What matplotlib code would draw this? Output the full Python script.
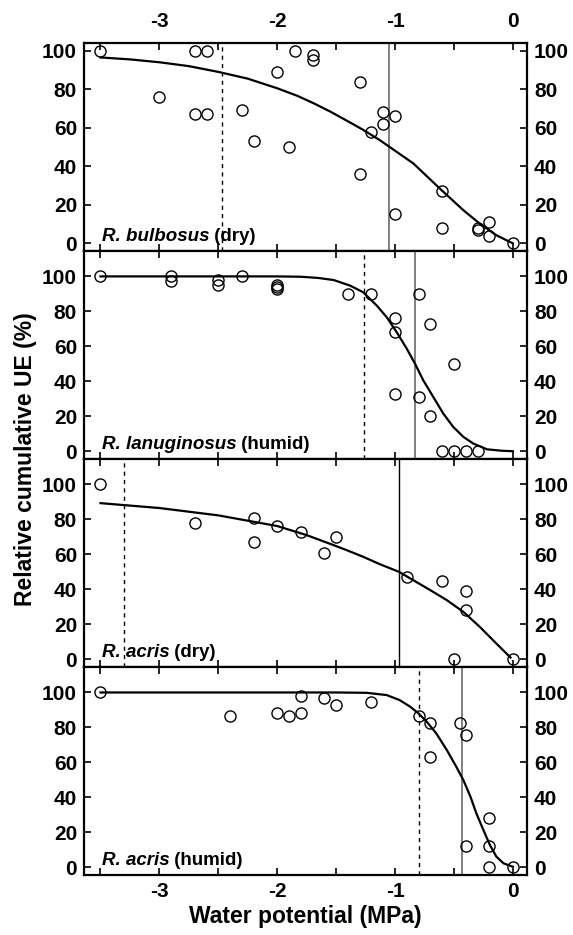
"""Relative cumulative UE vs water potential, four Ranunculus panels"""
import numpy as np
import matplotlib.pyplot as plt

plt.rcParams['font.family'] = ['Liberation Sans', 'DejaVu Sans']
plt.rcParams['font.weight'] = 'bold'

# --- R. bulbosus (dry)
bulb_x = [-3.5, -3.0, -2.7, -2.6, -2.7, -2.6, -2.3, -2.2, -2.0, -1.9, -1.85, -1.7, -1.7,
          -1.3, -1.3, -1.2, -1.1, -1.1, -1.0, -1.0, -0.6, -0.6, -0.3, -0.3, -0.2, -0.2, 0.0]
bulb_y = [100, 76, 100, 100, 67, 67, 69, 53, 89, 50, 100, 98, 95,
          84, 36, 58, 68, 62, 66, 15, 27, 8, 8, 7, 11, 4, 0]
bulb_fit_x = [-3.5, -3.25, -3.0, -2.75, -2.5, -2.25, -2.0, -1.83, -1.69, -1.55, -1.41,
              -1.27, -1.13, -1.05, -0.845, -0.605, -0.42, -0.28, -0.14, 0.0]
bulb_fit_y = [96.5, 95.5, 94, 92, 89, 85.5, 80.5, 76.6, 72.7, 68.4, 63.7,
              58.9, 53.6, 50.2, 41.5, 27.6, 17.2, 10.2, 4.2, 0]
bulb_t90, bulb_t50 = -2.47, -1.05

# --- R. lanuginosus (humid)
lanu_x = [-3.5, -2.9, -2.9, -2.5, -2.5, -2.3, -2.0, -2.0, -2.0, -1.4, -1.2,
          -1.0, -1.0, -1.0, -0.8, -0.8, -0.7, -0.7, -0.5, -0.6, -0.5, -0.4, -0.3]
lanu_y = [100, 100, 97.5, 98, 95, 100, 95, 94, 93, 90, 90,
          76, 68, 33, 90, 31, 73, 20, 50, 0, 0, 0, 0]
lanu_fit_x = [-3.5, -3.0, -2.5, -2.0, -1.8, -1.65, -1.52, -1.38, -1.27, -1.155, -1.07,
              -0.986, -0.90, -0.83, -0.76, -0.675, -0.59, -0.506, -0.42, -0.336, -0.22,
              -0.1, 0.0]
lanu_fit_y = [100, 100, 100, 100, 99.8, 99.1, 97.9, 94.7, 90.9, 83.3, 76.6,
              68.1, 58.6, 50, 40.5, 31, 21.5, 13.9, 8.2, 4.4, 1.1,
              0.3, 0]
lanu_t90, lanu_t50 = -1.26, -0.83

# --- R. acris (dry)
acdry_x = [-3.5, -2.7, -2.2, -2.2, -2.0, -1.8, -1.6, -1.5, -0.9, -0.6, -0.4, -0.4, -0.5, 0.0]
acdry_y = [100, 78, 81, 67, 76, 73, 61, 70, 47, 45, 39, 28, 0, 0]
acdry_fit_x = [-3.5, -3.0, -2.5, -2.0, -1.75, -1.55, -1.41, -1.27, -1.13, -0.966, -0.845,
               -0.70, -0.56, -0.42, -0.28, -0.14, -0.02]
acdry_fit_y = [89.3, 86.5, 82.3, 76.2, 71, 66, 62.4, 58.6, 54.4, 50, 45.2,
               39.5, 33.8, 27.1, 18.5, 9, 1]
acdry_t90, acdry_t50 = -3.30, -0.963

# --- R. acris (humid)
achum_x = [-3.5, -2.4, -2.0, -1.9, -1.8, -1.8, -1.6, -1.5, -1.2, -0.8, -0.7, -0.7,
           -0.45, -0.4, -0.4, -0.2, -0.2, -0.2, 0.0]
achum_y = [100, 86.5, 88, 86.5, 88, 98, 97, 93, 94.5, 86.5, 82.5, 63,
           82.5, 75.6, 12, 28, 12, 0, 0]
achum_fit_x = [-3.5, -3.0, -2.5, -2.0, -1.5, -1.24, -1.07, -0.96, -0.87, -0.80, -0.73,
               -0.65, -0.56, -0.48, -0.42, -0.36, -0.31, -0.25, -0.195, -0.14, -0.08, 0.0]
achum_fit_y = [100, 100, 100, 100, 100, 99.8, 98.5, 95.6, 91.8, 88, 83.2,
               76.6, 67, 57.5, 49.9, 40.4, 30.9, 21.3, 12.8, 6.1, 2.3, 0.3]
achum_t90, achum_t50 = -0.80, -0.43

species = ['R. bulbosus', 'R. lanuginosus', 'R. acris', 'R. acris']
habitat = ['(dry)', '(humid)', '(dry)', '(humid)']
y_ticks = [0, 20, 40, 60, 80, 100]
x_ticks = [-3, -2, -1, 0]
x_minor = [-3.5, -2.5, -1.5, -0.5]


def main():
    panels = [
        (bulb_x, bulb_y, bulb_fit_x, bulb_fit_y, bulb_t90, bulb_t50, 'grey', (-4, 104)),
        (lanu_x, lanu_y, lanu_fit_x, lanu_fit_y, lanu_t90, lanu_t50, 'grey', (-4.5, 114.5)),
        (acdry_x, acdry_y, acdry_fit_x, acdry_fit_y, acdry_t90, acdry_t50, 'black', (-4.5, 114.5)),
        (achum_x, achum_y, achum_fit_x, achum_fit_y, achum_t90, achum_t50, 'grey', (-4.5, 114.5)),
    ]

    fig, axes = plt.subplots(4, 1, figsize=(5.73, 9.35), dpi=100, sharex=True)
    fig.subplots_adjust(left=0.1466, right=0.9197, top=0.954, bottom=0.064, hspace=0)

    for i, (ax, p) in enumerate(zip(axes, panels)):
        x, y, fx, fy, t90, t50, c50, ylim = p
        ax.axvline(t90, color='black', lw=1.0, ls=(0, (3, 3)), zorder=1)
        ax.axvline(t50, color=c50, lw=1.4 if c50 == 'grey' else 1.0, zorder=1)
        ax.plot(fx, fy, color='black', lw=1.6, zorder=2)
        ax.plot(x, y, 'o', mfc='none', mec='black', ms=8, mew=1.0, zorder=3)

        ax.set_xlim(-3.64, 0.12)
        ax.set_ylim(*ylim)
        ax.set_yticks(y_ticks)
        ax.set_xticks(x_ticks)
        ax.set_xticks(x_minor, minor=True)
        ax.tick_params(which='both', direction='in', length=5, width=1.2,
                       top=True, right=True, labelright=True, labelsize=15)
        ax.tick_params(axis='y', pad=5)
        if i == 0:
            ax.tick_params(axis='x', labeltop=True, labelbottom=False, pad=9)
        elif i == 3:
            ax.tick_params(axis='x', labelbottom=True, pad=5)
        for s in ax.spines.values():
            s.set_linewidth(1.6)
        ax.set_xticklabels([str(v) for v in x_ticks])

        # species name in italics, habitat upright right after it
        t = ax.text(0.04, 0.03, species[i], transform=ax.transAxes, fontsize=13.5,
                    fontweight='bold', fontstyle='italic', ha='left', va='bottom')
        ax.annotate(' ' + habitat[i], xy=(1, 0), xycoords=t, fontsize=13.5,
                    fontweight='bold', ha='left', va='bottom')

    axes[3].set_xlabel('Water potential (MPa)', fontsize=16.5, fontweight='bold', labelpad=3)
    fig.text(0.045, 0.509, 'Relative cumulative UE (%)', rotation=90, fontsize=16.5,
             fontweight='bold', ha='center', va='center')

    plt.savefig('out.png', dpi=100)
    plt.close()


if __name__ == '__main__':
    main()
